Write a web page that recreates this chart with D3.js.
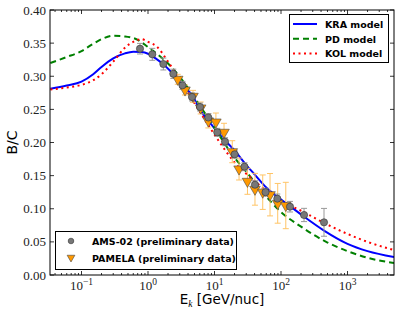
<!DOCTYPE html>
<html>
<head>
<meta charset="utf-8">
<script src="https://cdn.jsdelivr.net/npm/d3@7"></script>
<style>
  body { margin: 0; background: #fff; }
  svg { display: block; }
</style>
</head>
<body>
<div id="chart"></div>
<script>
// AMS-02 preliminary B/C
const amsE   = [0.758, 1.16, 1.70, 2.40, 3.30, 4.59, 6.05, 8.07, 11.0, 14.4, 20.1, 28.2, 40.6, 58.5, 88.0, 136.5, 222, 443];
const amsBC  = [0.3416, 0.3331, 0.3185, 0.3037, 0.2863, 0.2687, 0.2536, 0.2377, 0.2154, 0.2012, 0.1822, 0.1635, 0.1363, 0.1250, 0.1152, 0.1031, 0.0906, 0.0795];
const amsErr = [0.008, 0.009, 0.009, 0.007, 0.006, 0.006, 0.006, 0.006, 0.006, 0.006, 0.006, 0.006, 0.006, 0.006, 0.007, 0.008, 0.010, 0.021];

// PAMELA preliminary B/C
const pamE   = [2.80, 3.60, 4.75, 6.20, 8.07, 10.5, 13.9, 18.5, 23.4, 31.3, 40.6, 53.1, 68.4, 89.2, 118];
const pamBC  = [0.2954, 0.2792, 0.2697, 0.2521, 0.2325, 0.2309, 0.2154, 0.1861, 0.1600, 0.1414, 0.1294, 0.1250, 0.1212, 0.1082, 0.1049];
const pamErr = [0.0075, 0.0075, 0.009, 0.009, 0.0105, 0.0136, 0.0136, 0.0166, 0.0166, 0.0196, 0.024, 0.026, 0.032, 0.030, 0.035];

// model curves
const kraE  = [0.034, 0.06, 0.1, 0.15, 0.2, 0.3, 0.45, 0.6, 0.8, 1.0, 1.3, 1.7, 2.4, 3.3, 4.7, 6.0, 8.5, 12, 14.4, 20, 30, 40, 60, 100, 136, 222, 443, 1000, 2000, 5000];
const kraBC = [0.281, 0.286, 0.292, 0.303, 0.314, 0.327, 0.3345, 0.337, 0.3365, 0.334, 0.327, 0.318, 0.303, 0.287, 0.270, 0.250, 0.230, 0.212, 0.203, 0.188, 0.166, 0.152, 0.132, 0.114, 0.104, 0.088, 0.067, 0.047, 0.036, 0.027];

const pdE  = [0.034, 0.06, 0.1, 0.15, 0.2, 0.3, 0.45, 0.7, 1.0, 1.4, 2.1, 3.0, 5, 10, 20, 30, 50, 100, 200, 500, 1000, 2000, 5000];
const pdBC = [0.320, 0.329, 0.338, 0.349, 0.356, 0.361, 0.360, 0.355, 0.344, 0.333, 0.317, 0.299, 0.268, 0.222, 0.177, 0.156, 0.128, 0.095, 0.073, 0.049, 0.036, 0.026, 0.018];

const kolE  = [0.034, 0.06, 0.1, 0.15, 0.2, 0.3, 0.45, 0.6, 0.8, 1.0, 1.35, 2.0, 2.8, 4.0, 7.0, 12, 20, 30, 40, 60, 100, 200, 500, 1000, 2000, 5000];
const kolBC = [0.280, 0.283, 0.287, 0.294, 0.303, 0.322, 0.343, 0.352, 0.356, 0.352, 0.345, 0.322, 0.300, 0.275, 0.236, 0.200, 0.170, 0.153, 0.142, 0.127, 0.112, 0.097, 0.076, 0.062, 0.050, 0.0377];

const yTicks = [0.00, 0.05, 0.10, 0.15, 0.20, 0.25, 0.30, 0.35, 0.40];
const xTicks = [0.1, 1, 10, 100, 1000];

const W = 399, H = 314;
const margin = { top: 10, right: 5, bottom: 39, left: 50 };

const svg = d3.select("#chart").append("svg")
  .attr("width", W).attr("height", H);

const x = d3.scaleLog().domain([0.0336, 5000]).range([margin.left, W - margin.right]);
const y = d3.scaleLinear().domain([0, 0.40]).range([H - margin.bottom, margin.top]);

const x0 = x.range()[0], x1 = x.range()[1];
const y0 = y.range()[0], y1 = y.range()[1];

// ticks (inward, mirrored)
const minor = [];
for (let p = -2; p <= 3; p++) for (let m = 2; m <= 9; m++) {
  const v = m * Math.pow(10, p);
  if (v > x.domain()[0] && v < x.domain()[1]) minor.push(v);
}
const tk = svg.append("g").attr("stroke", "#000").attr("stroke-width", 0.8);
xTicks.forEach(v => {
  tk.append("line").attr("x1", x(v)).attr("x2", x(v)).attr("y1", y0).attr("y2", y0 - 4);
  tk.append("line").attr("x1", x(v)).attr("x2", x(v)).attr("y1", y1).attr("y2", y1 + 4);
});
minor.forEach(v => {
  tk.append("line").attr("x1", x(v)).attr("x2", x(v)).attr("y1", y0).attr("y2", y0 - 2);
  tk.append("line").attr("x1", x(v)).attr("x2", x(v)).attr("y1", y1).attr("y2", y1 + 2);
});
yTicks.forEach(v => {
  tk.append("line").attr("x1", x0).attr("x2", x0 + 4).attr("y1", y(v)).attr("y2", y(v));
  tk.append("line").attr("x1", x1).attr("x2", x1 - 4).attr("y1", y(v)).attr("y2", y(v));
});

// tick labels
svg.append("g").selectAll("text").data(yTicks).join("text")
  .attr("x", x0 - 4).attr("y", d => y(d) + 4.5)
  .attr("text-anchor", "end")
  .attr("font-family", "Liberation Serif, serif").attr("font-size", 13).attr("fill", "#222")
  .text(d => d.toFixed(2));

const xl = svg.append("g").selectAll("text").data(xTicks).join("text")
  .attr("x", d => x(d)).attr("y", y0 + 14.5)
  .attr("text-anchor", "middle")
  .attr("font-family", "Liberation Serif, serif").attr("font-size", 13).attr("fill", "#222");
xl.append("tspan").text("10");
xl.append("tspan").attr("dy", -5).attr("font-size", 9.5)
  .text(d => String(Math.round(Math.log10(d))).replace("-", "\u2212"));

// axis titles
svg.append("text")
  .attr("transform", `translate(17,${(y0 + y1) / 2}) rotate(-90)`)
  .attr("text-anchor", "middle")
  .attr("font-family", "DejaVu Sans, sans-serif").attr("font-size", 14)
  .text("B/C");
const xt = svg.append("text")
  .attr("x", (x0 + x1) / 2).attr("y", 304)
  .attr("text-anchor", "middle")
  .attr("font-family", "DejaVu Sans, sans-serif").attr("font-size", 13.5);
xt.append("tspan").text("E");
xt.append("tspan").attr("dy", 3).attr("font-size", 9.5).attr("font-style", "italic").attr("font-family", "Liberation Serif, serif").text("k");
xt.append("tspan").attr("dy", -3).text(" [GeV/nuc]");

// plot clip
svg.append("clipPath").attr("id", "clip").append("rect")
  .attr("x", x0).attr("y", y1).attr("width", x1 - x0).attr("height", y0 - y1);
const plot = svg.append("g").attr("clip-path", "url(#clip)");

const line = d3.line().x(d => x(d[0])).y(d => y(d[1])).curve(d3.curveMonotoneX);
const models = [
  { E: kraE, v: kraBC, color: "#0000ff", dash: null },
  { E: pdE, v: pdBC, color: "#008000", dash: "6,4" },
  { E: kolE, v: kolBC, color: "#ff0000", dash: "2,3.5" }
];
models.forEach(m => {
  plot.append("path").datum(m.E.map((e, i) => [e, m.v[i]]))
    .attr("d", line).attr("fill", "none")
    .attr("stroke", m.color).attr("stroke-width", 2)
    .attr("stroke-dasharray", m.dash);
});

// error bars
function errBars(E, v, err, color) {
  const g = plot.append("g").attr("stroke", color).attr("stroke-width", 1);
  E.forEach((e, i) => {
    const px = x(e), ya = y(v[i] - err[i]), yb = y(v[i] + err[i]);
    g.append("line").attr("x1", px).attr("x2", px).attr("y1", ya).attr("y2", yb);
    g.append("line").attr("x1", px - 3).attr("x2", px + 3).attr("y1", ya).attr("y2", ya);
    g.append("line").attr("x1", px - 3).attr("x2", px + 3).attr("y1", yb).attr("y2", yb);
  });
}
errBars(pamE, pamBC, pamErr, "#ffc466");
errBars(amsE, amsBC, amsErr, "#999999");

const tri = d3.symbol().type(d3.symbolTriangle).size(48);
plot.append("g").selectAll("path").data(pamE.map((e, i) => [e, pamBC[i]])).join("path")
  .attr("d", tri)
  .attr("transform", d => `translate(${x(d[0])},${y(d[1])}) rotate(180)`)
  .attr("fill", "#ff9900").attr("stroke", "#444").attr("stroke-width", 0.6);

plot.append("g").selectAll("circle").data(amsE.map((e, i) => [e, amsBC[i]])).join("circle")
  .attr("cx", d => x(d[0])).attr("cy", d => y(d[1])).attr("r", 3.6)
  .attr("fill", "#777").attr("stroke", "#333").attr("stroke-width", 0.6);

// frame
svg.append("rect").attr("x", x0).attr("y", y1).attr("width", x1 - x0).attr("height", y0 - y1)
  .attr("fill", "none").attr("stroke", "#000").attr("stroke-width", 1);

// legend: models
const legModels = ["KRA model", "PD model", "KOL model"];
const lg1 = svg.append("g");
lg1.append("rect").attr("x", 289.5).attr("y", 14.5).attr("width", 99).attr("height", 48)
  .attr("fill", "#fff").attr("stroke", "#000").attr("stroke-width", 1);
legModels.forEach((name, i) => {
  const ly = 24 + i * 14.8;
  lg1.append("line").attr("x1", 293).attr("x2", 317).attr("y1", ly).attr("y2", ly)
    .attr("stroke", models[i].color).attr("stroke-width", 2).attr("stroke-dasharray", models[i].dash);
  lg1.append("text").attr("x", 325).attr("y", ly + 3.8)
    .attr("font-family", "DejaVu Sans, sans-serif").attr("font-weight", "bold").attr("font-size", 9.5)
    .text(name);
});

// legend: data
const legData = ["AMS-02 (preliminary data)", "PAMELA (preliminary data)"];
const lg2 = svg.append("g");
lg2.append("rect").attr("x", 55.5).attr("y", 231.5).attr("width", 181).attr("height", 38)
  .attr("fill", "#fff").attr("stroke", "#000").attr("stroke-width", 1);
lg2.append("circle").attr("cx", 71).attr("cy", 241).attr("r", 2.8)
  .attr("fill", "#777").attr("stroke", "#333").attr("stroke-width", 0.6);
lg2.append("path").attr("d", d3.symbol().type(d3.symbolTriangle).size(26))
  .attr("transform", "translate(71,257.5) rotate(180)")
  .attr("fill", "#ff9900").attr("stroke", "#444").attr("stroke-width", 0.6);
legData.forEach((name, i) => {
  lg2.append("text").attr("x", 92).attr("y", 241 + i * 16.7 + 3.8)
    .attr("font-family", "DejaVu Sans, sans-serif").attr("font-weight", "bold").attr("font-size", 9.5)
    .text(name);
});
</script>
</body>
</html>
